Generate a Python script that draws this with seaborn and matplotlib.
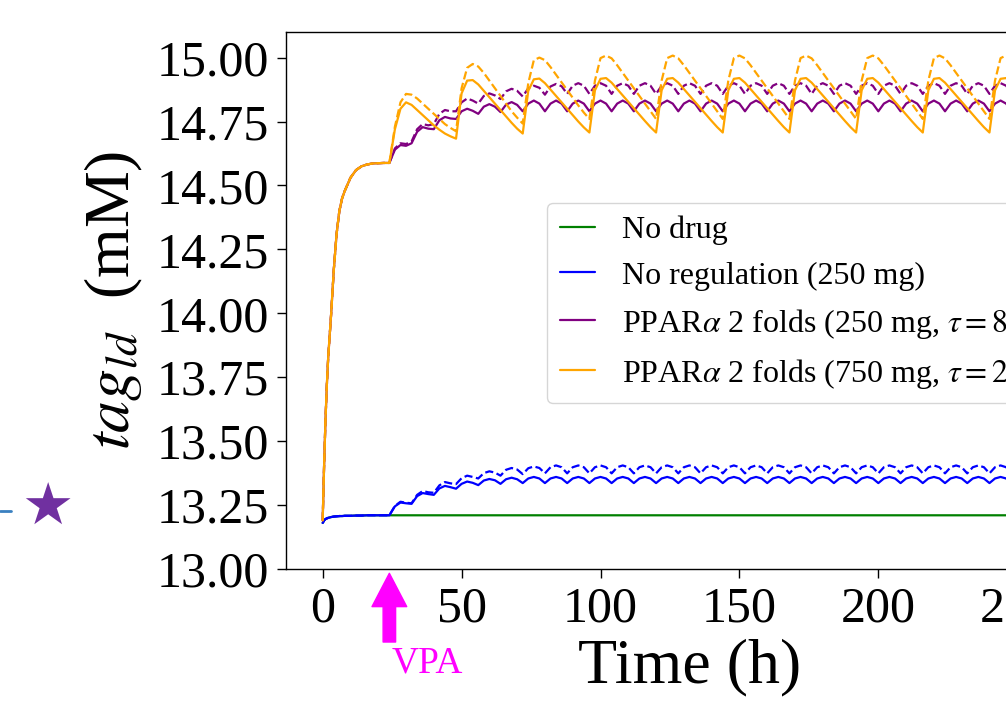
import numpy as np
import pandas as pd
import matplotlib
matplotlib.use("Agg")
import matplotlib.pyplot as plt
import matplotlib.transforms as mtransforms
from matplotlib.lines import Line2D
import seaborn as sns

# time grid (h): fine sampling while the cells fill up, then every 2 h
T_EARLY = [0, 0.5, 1, 1.5, 2, 3, 4, 5, 6, 7, 8, 10, 12, 14, 16, 18, 20, 22]
T_LATE = np.arange(24, 250, 2)

# before VPA (t < 24 h)
HIGH_EARLY = [13.19, 13.40, 13.58, 13.72, 13.83, 13.99, 14.17, 14.31, 14.40, 14.45,
              14.48, 14.53, 14.56, 14.575, 14.582, 14.586, 14.587, 14.588]
LOW_EARLY = [13.18, 13.19, 13.195, 13.198, 13.200, 13.203, 13.205, 13.206, 13.207,
             13.207, 13.208, 13.208, 13.209, 13.209, 13.21, 13.21, 13.21, 13.21]

NO_DRUG_LATE = [13.21] * len(T_LATE)

# tau = 8 h series: one line per dosing interval (values at +0, +2, +4, +6 h)
BLUE_SOLID = [
    13.210, 13.245, 13.260, 13.257,
    13.255, 13.285, 13.297, 13.293,
    13.290, 13.315, 13.325, 13.320,
    13.314, 13.333, 13.342, 13.337,
    13.328, 13.346, 13.352, 13.347,
    13.333, 13.351, 13.357, 13.351,
    13.336, 13.354, 13.360, 13.354,
    13.336, 13.354, 13.360, 13.354,
    13.336, 13.354, 13.360, 13.354,
    13.336, 13.354, 13.360, 13.354,
    13.336, 13.354, 13.360, 13.354,
    13.336, 13.354, 13.360, 13.354,
    13.336, 13.354, 13.360, 13.354,
    13.336, 13.354, 13.360, 13.354,
    13.336, 13.354, 13.360, 13.354,
    13.336, 13.354, 13.360, 13.354,
    13.336, 13.354, 13.360, 13.354,
    13.336, 13.354, 13.360, 13.354,
    13.336, 13.354, 13.360, 13.354,
    13.336, 13.354, 13.360, 13.354,
    13.336, 13.354, 13.360, 13.354,
    13.336, 13.354, 13.360, 13.354,
    13.336, 13.354, 13.360, 13.354,
    13.336, 13.354, 13.360, 13.354,
    13.336, 13.354, 13.360, 13.354,
    13.336, 13.354, 13.360, 13.354,
    13.336, 13.354, 13.360, 13.354,
    13.336, 13.354, 13.360, 13.354,
    13.336,
]
BLUE_DASHED = [
    13.210, 13.247, 13.263, 13.259,
    13.257, 13.290, 13.305, 13.300,
    13.298, 13.327, 13.340, 13.335,
    13.332, 13.355, 13.365, 13.360,
    13.354, 13.375, 13.382, 13.377,
    13.365, 13.388, 13.395, 13.389,
    13.371, 13.394, 13.401, 13.395,
    13.374, 13.398, 13.405, 13.398,
    13.374, 13.398, 13.405, 13.398,
    13.374, 13.398, 13.405, 13.398,
    13.374, 13.398, 13.405, 13.398,
    13.374, 13.398, 13.405, 13.398,
    13.374, 13.398, 13.405, 13.398,
    13.374, 13.398, 13.405, 13.398,
    13.374, 13.398, 13.405, 13.398,
    13.374, 13.398, 13.405, 13.398,
    13.374, 13.398, 13.405, 13.398,
    13.374, 13.398, 13.405, 13.398,
    13.374, 13.398, 13.405, 13.398,
    13.374, 13.398, 13.405, 13.398,
    13.374, 13.398, 13.405, 13.398,
    13.374, 13.398, 13.405, 13.398,
    13.374, 13.398, 13.405, 13.398,
    13.374, 13.398, 13.405, 13.398,
    13.374, 13.398, 13.405, 13.398,
    13.374, 13.398, 13.405, 13.398,
    13.374, 13.398, 13.405, 13.398,
    13.374, 13.398, 13.405, 13.398,
    13.374,
]
PURPLE_SOLID = [
    14.588, 14.640, 14.658, 14.655,
    14.665, 14.710, 14.728, 14.722,
    14.720, 14.755, 14.768, 14.762,
    14.760, 14.790, 14.800, 14.792,
    14.780, 14.808, 14.818, 14.808,
    14.787, 14.816, 14.826, 14.815,
    14.790, 14.820, 14.832, 14.820,
    14.790, 14.820, 14.832, 14.820,
    14.790, 14.820, 14.832, 14.820,
    14.790, 14.820, 14.832, 14.820,
    14.790, 14.820, 14.832, 14.820,
    14.790, 14.820, 14.832, 14.820,
    14.790, 14.820, 14.832, 14.820,
    14.790, 14.820, 14.832, 14.820,
    14.790, 14.820, 14.832, 14.820,
    14.790, 14.820, 14.832, 14.820,
    14.790, 14.820, 14.832, 14.820,
    14.790, 14.820, 14.832, 14.820,
    14.790, 14.820, 14.832, 14.820,
    14.790, 14.820, 14.832, 14.820,
    14.790, 14.820, 14.832, 14.820,
    14.790, 14.820, 14.832, 14.820,
    14.790, 14.820, 14.832, 14.820,
    14.790, 14.820, 14.832, 14.820,
    14.790, 14.820, 14.832, 14.820,
    14.790, 14.820, 14.832, 14.820,
    14.790, 14.820, 14.832, 14.820,
    14.790, 14.820, 14.832, 14.820,
    14.790,
]
PURPLE_DASHED = [
    14.588, 14.645, 14.665, 14.662,
    14.672, 14.720, 14.740, 14.735,
    14.740, 14.780, 14.795, 14.790,
    14.790, 14.825, 14.840, 14.832,
    14.820, 14.850, 14.860, 14.852,
    14.838, 14.868, 14.878, 14.870,
    14.848, 14.880, 14.890, 14.882,
    14.855, 14.887, 14.897, 14.888,
    14.858, 14.890, 14.900, 14.890,
    14.858, 14.890, 14.900, 14.890,
    14.858, 14.890, 14.900, 14.890,
    14.858, 14.890, 14.900, 14.890,
    14.858, 14.890, 14.900, 14.890,
    14.858, 14.890, 14.900, 14.890,
    14.858, 14.890, 14.900, 14.890,
    14.858, 14.890, 14.900, 14.890,
    14.858, 14.890, 14.900, 14.890,
    14.858, 14.890, 14.900, 14.890,
    14.858, 14.890, 14.900, 14.890,
    14.858, 14.890, 14.900, 14.890,
    14.858, 14.890, 14.900, 14.890,
    14.858, 14.890, 14.900, 14.890,
    14.858, 14.890, 14.900, 14.890,
    14.858, 14.890, 14.900, 14.890,
    14.858, 14.890, 14.900, 14.890,
    14.858, 14.890, 14.900, 14.890,
    14.858, 14.890, 14.900, 14.890,
    14.858, 14.890, 14.900, 14.890,
    14.858,
]

# tau = 24 h series: one line per dosing interval (every 2 h)
ORANGE_SOLID = [
    14.588, 14.720, 14.800, 14.825, 14.815, 14.795, 14.775, 14.755, 14.735, 14.718, 14.703, 14.692,
    14.683, 14.860, 14.910, 14.912, 14.895, 14.870, 14.845, 14.820, 14.795, 14.770, 14.745, 14.722,
    14.703, 14.870, 14.915, 14.918, 14.900, 14.875, 14.850, 14.825, 14.800, 14.775, 14.750, 14.727,
    14.707, 14.872, 14.917, 14.920, 14.902, 14.877, 14.852, 14.827, 14.802, 14.777, 14.752, 14.728,
    14.707, 14.872, 14.917, 14.920, 14.902, 14.877, 14.852, 14.827, 14.802, 14.777, 14.752, 14.728,
    14.707, 14.872, 14.917, 14.920, 14.902, 14.877, 14.852, 14.827, 14.802, 14.777, 14.752, 14.728,
    14.707, 14.872, 14.917, 14.920, 14.902, 14.877, 14.852, 14.827, 14.802, 14.777, 14.752, 14.728,
    14.707, 14.872, 14.917, 14.920, 14.902, 14.877, 14.852, 14.827, 14.802, 14.777, 14.752, 14.728,
    14.707, 14.872, 14.917, 14.920, 14.902, 14.877, 14.852, 14.827, 14.802, 14.777, 14.752, 14.728,
    14.707, 14.872, 14.917, 14.920, 14.902,
]
ORANGE_DASHED = [
    14.588, 14.730, 14.825, 14.858, 14.855, 14.840, 14.820, 14.800, 14.780, 14.760, 14.740, 14.725,
    14.712, 14.880, 14.960, 14.975, 14.965, 14.940, 14.910, 14.880, 14.850, 14.820, 14.790, 14.765,
    14.742, 14.900, 14.990, 15.000, 14.990, 14.963, 14.933, 14.903, 14.873, 14.843, 14.813, 14.785,
    14.760, 14.910, 14.998, 15.008, 14.997, 14.970, 14.940, 14.910, 14.880, 14.850, 14.820, 14.790,
    14.760, 14.910, 14.998, 15.008, 14.997, 14.970, 14.940, 14.910, 14.880, 14.850, 14.820, 14.790,
    14.760, 14.910, 14.998, 15.008, 14.997, 14.970, 14.940, 14.910, 14.880, 14.850, 14.820, 14.790,
    14.760, 14.910, 14.998, 15.008, 14.997, 14.970, 14.940, 14.910, 14.880, 14.850, 14.820, 14.790,
    14.760, 14.910, 14.998, 15.008, 14.997, 14.970, 14.940, 14.910, 14.880, 14.850, 14.820, 14.790,
    14.760, 14.910, 14.998, 15.008, 14.997, 14.970, 14.940, 14.910, 14.880, 14.850, 14.820, 14.790,
    14.760, 14.910, 14.998, 15.008, 14.997,
]

LABELS = [
    "No drug",
    "No regulation (250 mg)",
    r"PPAR$\alpha$ 2 folds (250 mg, $\tau=8$ h)",
    r"PPAR$\alpha$ 2 folds (750 mg, $\tau=24$ h)",
]
X_TICKS = [0, 50, 100, 150, 200, 250]
Y_TICKS = [13.00, 13.25, 13.50, 13.75, 14.00, 14.25, 14.50, 14.75, 15.00]
VPA_TIME = 24


def make_frame(early, late):
    t = np.concatenate([T_EARLY, T_LATE])
    v = np.concatenate([early, late])
    return pd.DataFrame({"Time": t, "tag": v})


sns.set_style("ticks", {"axes.edgecolor": "black", "xtick.color": "black",
                        "ytick.color": "black", "text.color": "black",
                        "axes.labelcolor": "black"})
plt.rcParams["font.family"] = ["Liberation Serif", "DejaVu Serif"]
plt.rcParams["mathtext.fontset"] = "stix"

fig = plt.figure(figsize=(10.06, 7.10), dpi=100)
# the panel runs past the right edge of the picture (cropped figure)
ax = fig.add_axes([0.2843, 0.1986, 0.802, 0.7563])

lines = [
    (LOW_EARLY, NO_DRUG_LATE, "green", "-", LABELS[0]),
    (LOW_EARLY, BLUE_SOLID, "blue", "-", LABELS[1]),
    (LOW_EARLY, BLUE_DASHED, "blue", "--", None),
    (HIGH_EARLY, PURPLE_SOLID, "purple", "-", LABELS[2]),
    (HIGH_EARLY, PURPLE_DASHED, "purple", "--", None),
    (HIGH_EARLY, ORANGE_SOLID, "orange", "-", LABELS[3]),
    (HIGH_EARLY, ORANGE_DASHED, "orange", "--", None),
]
for early, late, color, ls, label in lines:
    sns.lineplot(data=make_frame(early, late), x="Time", y="tag", ax=ax,
                 color=color, linestyle=ls, linewidth=1.6, label=label,
                 estimator=None, sort=False)

ax.set_xlim(-13.2, 277.2)
ax.set_ylim(13.0, 15.1)
ax.set_xticks(X_TICKS)
ax.set_yticks(Y_TICKS)
ax.yaxis.set_major_formatter(matplotlib.ticker.FormatStrFormatter("%.2f"))
for s in ax.spines.values():
    s.set_linewidth(1.0)
ax.tick_params(labelsize=36, length=6.5, width=1.0, pad=6)

ax.set_xlabel("Time (h)", fontsize=46, labelpad=4)
ax.set_ylabel(r"$tag_{ld}$  (mM)", fontsize=46, labelpad=8)

handles, labels = ax.get_legend_handles_labels()
ax.legend(handles, labels, loc="upper left", bbox_to_anchor=(0.3234, 0.6816),
          borderaxespad=0, fontsize=23, handlelength=1.1, handletextpad=0.85,
          labelspacing=0.5, frameon=True)

# VPA arrow under the time axis
trans = mtransforms.blended_transform_factory(ax.transData, ax.transAxes)
ax.annotate("", xy=(VPA_TIME, -0.008), xycoords=trans,
            xytext=(VPA_TIME, -0.136), textcoords=trans,
            arrowprops=dict(facecolor="magenta", edgecolor="magenta",
                            width=9, headwidth=25, headlength=24, shrink=0),
            annotation_clip=False)
ax.text(37.5, -0.175, "VPA", transform=trans, color="magenta", fontsize=27,
        ha="center", va="center")

# edge of the neighbouring panel's legend, cut by the crop
fig.add_artist(Line2D([0.0, 0.011], [0.2803, 0.2803], transform=fig.transFigure,
                      color="#3a80c0", linewidth=2))
fig.text(0.0467, 0.2845, "\u2605", color="#7030a0", fontsize=42,
         family="DejaVu Sans", ha="center", va="center")

fig.savefig("out.png", dpi=100)
